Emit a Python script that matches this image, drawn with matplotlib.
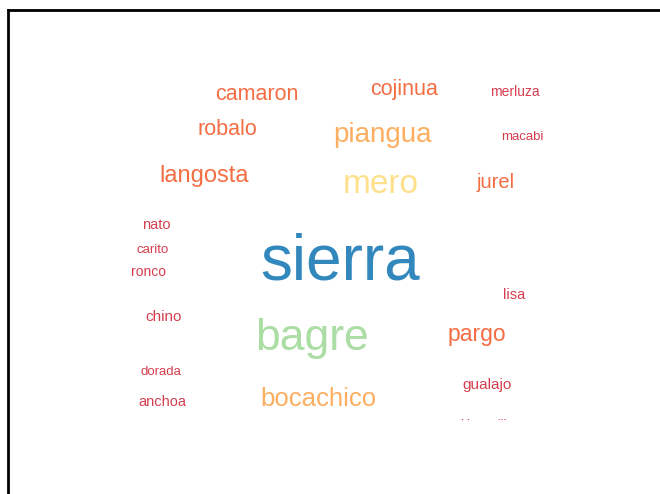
import matplotlib
matplotlib.use("Agg")
import matplotlib.pyplot as plt
from matplotlib.patches import Rectangle

plt.rcParams['font.family'] = ['Liberation Sans', 'DejaVu Sans']

# palabras y frecuencias
words = ['sierra', 'bagre', 'mero', 'piangua', 'bocachico', 'langosta', 'pargo',
         'camaron', 'cojinua', 'robalo', 'jurel', 'gualajo', 'chino', 'lisa',
         'anchoa', 'nato', 'merluza', 'ronco', 'carito', 'dorada', 'macabi',
         'blanquillo']
counts = [92, 64, 48, 40, 37, 34, 33, 31, 31, 31, 29, 22, 22, 21, 21, 21, 20,
          20, 19, 19, 19, 18]

# posicion de cada palabra en la nube (centro x, linea base y, en pixeles)
layout_x = [340, 312, 381, 382, 318, 204, 477, 257, 404, 227, 496, 487, 164,
            514, 162, 156, 515, 148, 153, 161, 522, 487]
layout_y = [279, 350, 193, 142, 406, 182, 341, 100, 95, 135, 188, 389, 321,
            299, 406, 229, 96, 276, 253, 375, 140, 428]


def color_for(c):
    if c >= 80:
        return '#3288bd'
    if c >= 60:
        return '#abdda4'
    if c >= 45:
        return '#fee08b'
    if c >= 36:
        return '#fdae61'
    if c >= 25:
        return '#f46d43'
    return '#d53e4f'


fig = plt.figure(figsize=(6.6, 4.94), dpi=100)

# marco (solo borde izquierdo y superior)
frame = fig.add_axes([7.5 / 660, 0, 1, (494 - 10.5) / 494])
frame.set_xticks([])
frame.set_yticks([])
for s in ['right', 'bottom']:
    frame.spines[s].set_visible(False)
for s in ['left', 'top']:
    frame.spines[s].set_linewidth(2)
frame.patch.set_alpha(0)

ax = fig.add_axes([0, 0, 1, 1])
ax.set_xlim(0, 660)
ax.set_ylim(494, 0)
ax.axis('off')
ax.patch.set_alpha(0)

for w, c, x, y in zip(words, counts, layout_x, layout_y):
    ax.text(x, y, w, fontsize=c / 2, color=color_for(c),
            ha='center', va='baseline', zorder=2)

# la ultima palabra queda cortada por el borde inferior de la nube
ax.add_patch(Rectangle((430, 419.5), 120, 30, facecolor='white',
                       edgecolor='none', zorder=3))

fig.savefig('out.png', dpi=100)
